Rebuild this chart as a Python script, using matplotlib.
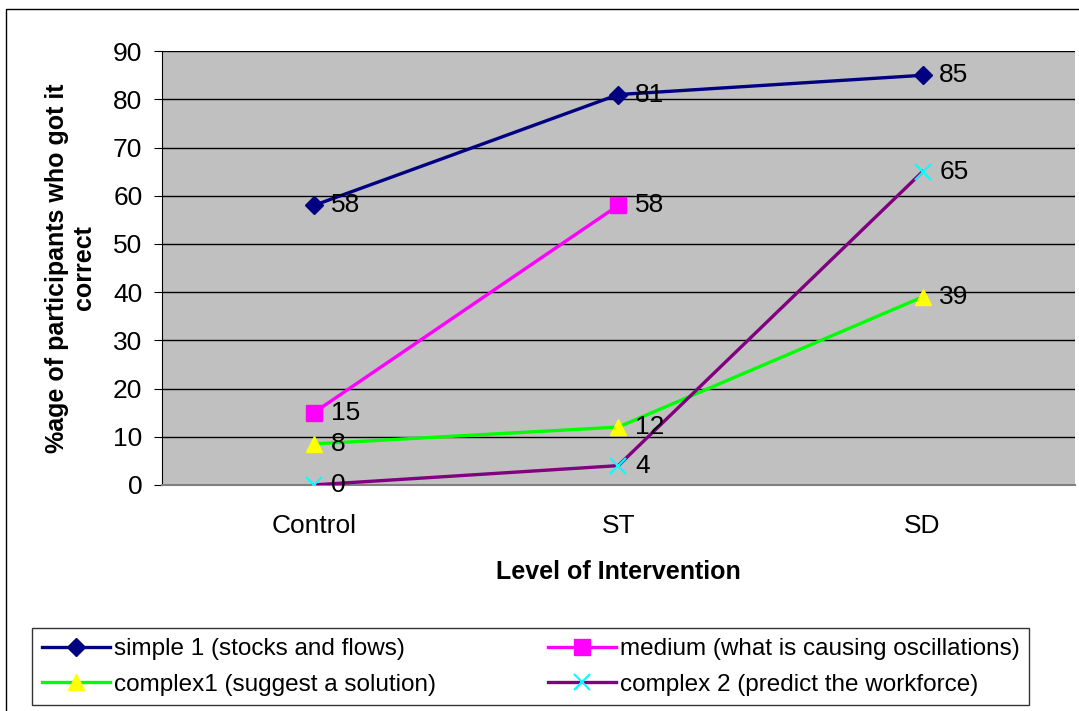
import matplotlib.pyplot as plt
from matplotlib.patches import Rectangle

plt.rcParams['font.family'] = ['Liberation Sans', 'DejaVu Sans']

# data
levels = ['Control', 'ST', 'SD']
simple1 = [58, 81, 85]
medium = [15, 58]
complex1 = [8.5, 12, 39]
complex2 = [0, 4, 65]

fig = plt.figure(figsize=(10.79, 7.11), dpi=100)
ax = fig.add_axes([0.150, 0.318, 0.846, 0.610])
ax.set_facecolor('#c0c0c0')

x = list(range(len(levels)))
l1, = ax.plot(x, simple1, color='#000080', linewidth=2.4, marker='D', markersize=9,
              markerfacecolor='#000080', markeredgecolor='#000080', label='simple 1 (stocks and flows)', zorder=3)
l2, = ax.plot(x[:len(medium)], medium, color='#ff00ff', linewidth=2.4, marker='s', markersize=11,
              markerfacecolor='#ff00ff', markeredgecolor='#ff00ff', label='medium (what is causing oscillations)', zorder=3)
l3, = ax.plot(x, complex1, color='#00ff00', linewidth=2.4, marker='^', markersize=12,
              markerfacecolor='#ffff00', markeredgecolor='#ffff00', label='complex1 (suggest a solution)', zorder=3)
l4, = ax.plot(x, complex2, color='#800080', linewidth=2.4, marker='x', markersize=12, markeredgewidth=1.5,
              markeredgecolor='#00ffff', label='complex 2 (predict the workforce)', zorder=3)

# data labels
for series in [simple1, medium, complex1, complex2]:
    for i, v in enumerate(series):
        ax.annotate(f'{v:.0f}', (i, v), xytext=(12, 0), textcoords='offset points',
                    va='center', ha='left', fontsize=19, zorder=4)

ax.set_xlim(-0.5, 2.5)
ax.set_ylim(0, 90)
ax.set_yticks(range(0, 91, 10))
ax.set_xticks(x)
ax.set_xticklabels(levels)
ax.tick_params(axis='y', labelsize=19, length=6, pad=8)
ax.tick_params(axis='x', labelsize=19, length=0, pad=21)
ax.yaxis.grid(True, color='black', linewidth=1)
ax.set_axisbelow(True)
for s in ['top', 'right']:
    ax.spines[s].set_visible(False)
ax.spines['bottom'].set_color('#808080')
ax.spines['bottom'].set_linewidth(1.5)

ax.set_xlabel('Level of Intervention', fontsize=18, fontweight='bold', labelpad=16)
ax.set_ylabel('%age of participants who got it\ncorrect', fontsize=18, fontweight='bold', labelpad=12)

fig.legend(handles=[l1, l3, l2, l4], loc='lower left', bbox_to_anchor=(0.030, 0.008, 0.924, 0.108),
           mode='expand', ncol=2, fontsize=17.5, frameon=True, fancybox=False, edgecolor='black',
           handlelength=2.8, handletextpad=0.15, borderpad=0.4, labelspacing=0.55, columnspacing=1.0,
           borderaxespad=0)

fig.patches.append(Rectangle((0.006, -0.01), 1.2, 0.998, transform=fig.transFigure,
                             fill=False, edgecolor='black', linewidth=1))

fig.savefig('out.png', dpi=100)
